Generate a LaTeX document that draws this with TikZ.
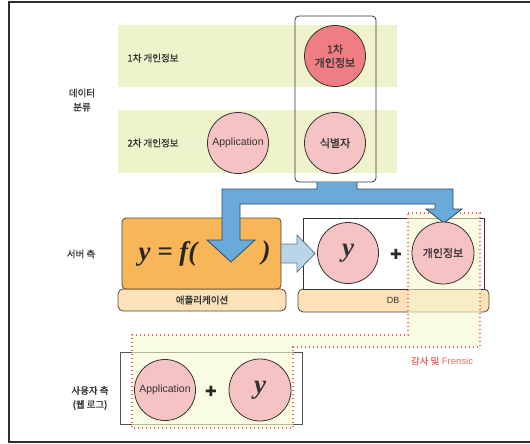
\documentclass[tikz,border=0pt]{standalone}
\usepackage{fontspec}
\setmainfont{Liberation Sans}
\newfontfamily\kr{Noto Sans CJK KR}[FakeBold=1.2]
\newfontfamily\sym{DejaVu Sans}
\newfontfamily\ital{Liberation Serif}
\definecolor{framec}{HTML}{2E2E2E}
\definecolor{bandc}{HTML}{EFF3CB}
\definecolor{linec}{HTML}{3A3230}
\definecolor{pinkc}{HTML}{F6C3C5}
\definecolor{redc}{HTML}{EF7E84}
\definecolor{orangec}{HTML}{F8B658}
\definecolor{orangedk}{HTML}{5B4632}
\definecolor{peachc}{HTML}{FDE1B8}
\definecolor{bluec}{HTML}{6AAAD9}
\definecolor{bluedk}{HTML}{2C4A68}
\definecolor{lbluec}{HTML}{B9D5E7}
\definecolor{lbluedk}{HTML}{587A96}
\definecolor{dotc}{HTML}{EA6A62}
\definecolor{zonec}{HTML}{F5F8D0}
\definecolor{textc}{HTML}{333333}
\definecolor{grayc}{HTML}{555555}
\tikzset{
  band/.style={fill=bandc, draw=none},
  circ/.style={circle, draw=linec, line width=0.8pt, fill=pinkc, minimum size=61pt,
    inner sep=0pt, align=center, text=textc, font=\kr\fontsize{11}{13.5}\selectfont},
  appc/.style={circ, font=\fontsize{10.5}{12}\selectfont},
  yc/.style={circ, font=\ital\bfseries\itshape\fontsize{27}{27}\selectfont},
  sidelbl/.style={align=center, text=textc, font=\kr\fontsize{9.5}{14}\selectfont},
  barlbl/.style={text=textc, font=\kr\fontsize{9.5}{11}\selectfont},
  plussign/.style={font=\sym\fontsize{14}{14}\selectfont, text=black!85, inner sep=0pt},
  basebar/.style={draw=orangedk, line width=0.8pt, fill=peachc, rounded corners=5pt},
  zone/.style={draw=dotc, line width=1.2pt, dash pattern=on 1.3pt off 2.7pt},
  formula/.style={font=\ital\bfseries\itshape\fontsize{27}{27}\selectfont, text=black!85},
}
\begin{document}
\begin{tikzpicture}[x=1pt, y=-1pt]
\useasboundingbox (0,0) rectangle (530,444);

% outer frame
\draw[framec, line width=1.3pt] (530,2) -- (9,2) -- (9,442) -- (530,442);

% classification bands
\fill[band] (118,25) rectangle (397,87);
\fill[band] (118,110) rectangle (397,173);

% group of identifying data
\node[draw=linec, line width=0.8pt, rounded corners=4pt, minimum width=81pt,
  minimum height=166pt, inner sep=0pt] (group) at (335.5,99) {};

% server side boxes
\draw[basebar] (118,289) rectangle (286,311);
\node[draw=orangedk, line width=0.8pt, fill=orangec, rounded corners=4pt,
  minimum width=159pt, minimum height=71pt, inner sep=0pt] (appbox) at (201.5,253.5) {};
\draw[basebar] (298,289) rectangle (489,312);
\node[draw=linec, line width=0.8pt, fill=white, minimum width=181pt,
  minimum height=71pt, inner sep=0pt] (dbbox) at (393.5,253.5) {};

% user side box
\node[draw=grayc, line width=0.8pt, minimum width=182pt, minimum height=72pt,
  inner sep=0pt] (userbox) at (211,388) {};

% audit / forensic zone
\fill[zonec, opacity=0.6] (408,213) -- (480,213) -- (480,347) -- (293,347) -- (293,428)
  -- (132,428) -- (132,335) -- (408,335) -- cycle;
\draw[zone] (408,213) -- (480,213) -- (480,347) -- (293,347) -- (293,428)
  -- (132,428) -- (132,335) -- (408,335) -- cycle;

% split arrow from the identifying group
\filldraw[fill=bluec, draw=bluedk, line width=0.8pt, line join=miter]
  (317,182) -- (317,189) -- (222,189) -- (222,240) -- (207,240) -- (231,262)
  -- (255,240) -- (240,240) -- (240,204) -- (435,204) -- (435,209) -- (426,209)
  -- (444,223) -- (462,209) -- (453,209) -- (453,189) -- (357,189) -- (357,182);

% arrow from the application to the DB
\filldraw[fill=lbluec, draw=lbluedk, line width=0.8pt, line join=miter]
  (281,244) -- (297,244) -- (297,235) -- (315,253.5) -- (297,272) -- (297,263)
  -- (281,263) -- cycle;

% circles
\node[circ, fill=redc] (first) at (335,56) {1차\\개인정보};
\node[circ] (ident) at (335,143) {식별자};
\node[appc] (app1) at (238,143) {Application};
\node[yc] (ydb) at (348,253) {y};
\node[circ, minimum size=62pt] (pinfo) at (443,253) {개인정보};
\node[appc] (app2) at (165,390) {Application};
\node[yc, minimum size=62pt] (yuser) at (260,390) {y};

\node[plussign] (plus1) at (396,254) {✚};
\node[plussign] (plus2) at (211,391) {✚};

% formula in the application box
\node[formula] (fx) at (168,254) {y = f(};
\node[formula] (fclose) at (266,253) {)};

% labels
\node[sidelbl] (l1) at (153,58) {1차 개인정보};
\node[sidelbl] (l2) at (153,143) {2차 개인정보};
\node[sidelbl] (ldata) at (82,100) {데이터\\분류};
\node[sidelbl] (lserver) at (81,254) {서버 측};
\node[sidelbl] (luser) at (90,398) {사용자 측\\(웹 로그)};
\node[barlbl] (lapp) at (202,300) {애플리케이션};
\node[text=textc, font=\fontsize{9}{11}\selectfont] (ldb) at (393,300) {DB};
\node[text=dotc, font=\fontsize{9.5}{11}\selectfont] (laudit) at (442,361) {{\kr 감사 및} Frensic};
\end{tikzpicture}
\end{document}
